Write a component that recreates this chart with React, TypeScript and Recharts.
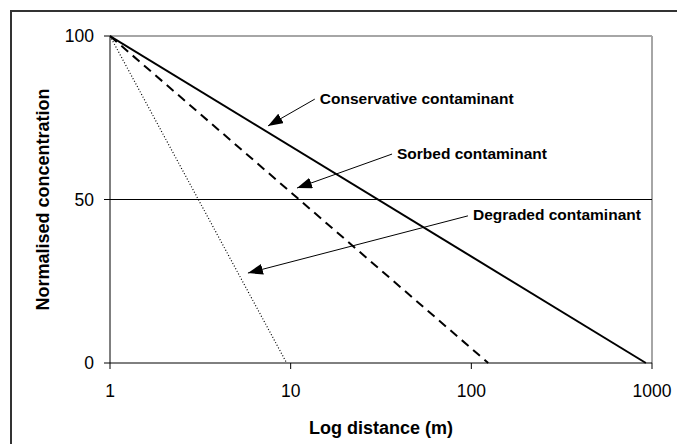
import { LineChart, Line, XAxis, YAxis, ReferenceLine } from "recharts";

const X_TICKS = [1, 10, 100, 1000];
const Y_TICKS = [0, 50, 100];

// concentration falls linearly with log distance
const conservative = [
  { x: 1, y: 100 },
  { x: 925, y: 0 },
];
const sorbed = [
  { x: 1, y: 100 },
  { x: 124, y: 0 },
];
const degraded = [
  { x: 1, y: 100 },
  { x: 9.5, y: 0 },
];

// annotation arrows: label end -> arrow tip (data coords)
const ANNOTATION_TEXT = ["Conservative contaminant", "Sorbed contaminant", "Degraded contaminant"];
const ANNOTATION_FROM = [
  { x: 13.6, y: 80.7 },
  { x: 36.4, y: 63.9 },
  { x: 95.8, y: 45.0 },
];
const ANNOTATION_TO = [
  { x: 7.49, y: 72.5 },
  { x: 10.84, y: 53.5 },
  { x: 5.8, y: 27.5 },
];

const FONT = "Arial, 'Liberation Sans', sans-serif";

function Arrow(props: any, text: string) {
  const { x1, y1, x2, y2 } = props;
  return (
    <g>
      <line x1={x1} y1={y1} x2={x2} y2={y2} stroke="#000" strokeWidth={1} markerEnd="url(#arrowHead)" />
      <text
        x={x1 + 5}
        y={y1 - 1}
        dominantBaseline="central"
        fontFamily={FONT}
        fontWeight={700}
        fontSize={15.5}
        fill="#000"
      >
        {text}
      </text>
    </g>
  );
}

export default function App() {
  return (
    <div
      style={{
        position: "fixed",
        left: 0,
        top: 0,
        width: 677,
        height: 444,
        overflow: "hidden",
        background: "#fff",
      }}
    >
      <div
        style={{
          position: "absolute",
          left: 10,
          top: 10,
          width: 720,
          height: 520,
          border: "2px solid #333",
        }}
      />
      <div style={{ position: "absolute", left: 0, top: 0 }}>
        <LineChart width={677} height={444} margin={{ top: 36, right: 25, left: 50, bottom: 41 }}>
          <defs>
            <marker
              id="arrowHead"
              markerUnits="userSpaceOnUse"
              markerWidth={15}
              markerHeight={11}
              refX={15}
              refY={5.5}
              orient="auto"
            >
              <path d="M0,0 L15,5.5 L0,11 Z" fill="#000" />
            </marker>
          </defs>
          <XAxis
            type="number"
            dataKey="x"
            scale="log"
            domain={[1, 1000]}
            ticks={X_TICKS}
            allowDataOverflow
            height={40}
            stroke="#000"
            tickSize={6}
            tickMargin={16}
            tick={{ fontSize: 17.5, fill: "#000", fontFamily: FONT }}
            label={{
              content: ({ viewBox }: any) => (
                <text
                  x={viewBox.x + viewBox.width / 2}
                  y={viewBox.y + 65}
                  textAnchor="middle"
                  dominantBaseline="central"
                  fontFamily={FONT}
                  fontWeight={700}
                  fontSize={18}
                  fill="#000"
                >
                  Log distance (m)
                </text>
              ),
            }}
          />
          <YAxis
            type="number"
            domain={[0, 100]}
            ticks={Y_TICKS}
            width={60}
            stroke="#000"
            tickSize={6}
            tickMargin={10}
            tick={{ fontSize: 17.5, fill: "#000", fontFamily: FONT }}
            label={{
              content: ({ viewBox }: any) => {
                const cx = viewBox.x - 7;
                const cy = viewBox.y + viewBox.height / 2;
                return (
                  <text
                    x={cx}
                    y={cy}
                    transform={`rotate(-90 ${cx} ${cy})`}
                    textAnchor="middle"
                    dominantBaseline="central"
                    fontFamily={FONT}
                    fontWeight={700}
                    fontSize={18}
                    fill="#000"
                  >
                    Normalised concentration
                  </text>
                );
              },
            }}
          />
          <ReferenceLine y={100} stroke="#a6a6a6" strokeWidth={2} />
          <ReferenceLine x={1000} stroke="#a6a6a6" strokeWidth={2} />
          <ReferenceLine y={50} stroke="#000" strokeWidth={1} />
          <Line
            data={degraded}
            dataKey="y"
            stroke="#000"
            strokeWidth={1.2}
            strokeDasharray="1 2"
            dot={false}
            isAnimationActive={false}
          />
          <Line
            data={sorbed}
            dataKey="y"
            stroke="#000"
            strokeWidth={2}
            strokeDasharray="9 6"
            dot={false}
            isAnimationActive={false}
          />
          <Line
            data={conservative}
            dataKey="y"
            stroke="#000"
            strokeWidth={2}
            dot={false}
            isAnimationActive={false}
          />
          {ANNOTATION_TEXT.map((t, i) => (
            <ReferenceLine
              key={t}
              segment={[ANNOTATION_FROM[i], ANNOTATION_TO[i]]}
              shape={(p: any) => Arrow(p, t)}
            />
          ))}
        </LineChart>
      </div>
    </div>
  );
}
